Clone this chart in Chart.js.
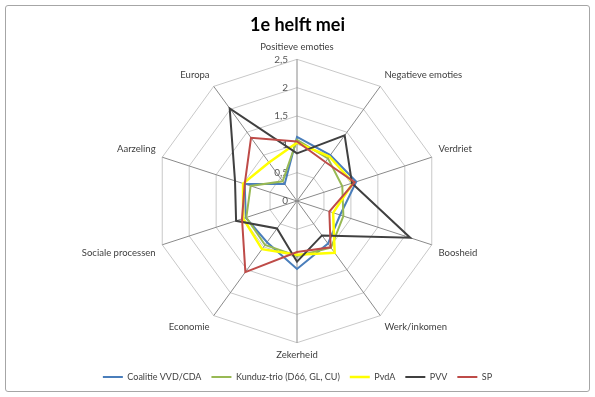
<!DOCTYPE html>
<html>
<head>
<meta charset="utf-8">
<script src="https://cdn.jsdelivr.net/npm/chart.js@4.4.1/dist/chart.umd.min.js"></script>
<style>
  html, body { margin: 0; padding: 0; background: #ffffff; }
  #wrap { position: relative; width: 595px; height: 397px; }
  #frame { position: absolute; left: 5px; top: 5px; width: 583px; height: 385px; border: 1px solid #a6a6a6; border-radius: 3px; pointer-events: none; }
  canvas { position: absolute; left: 0; top: 0; }
</style>
</head>
<body>
<div id="wrap">
  <canvas id="c" width="595" height="397"></canvas>
  <div id="frame"></div>
</div>
<script>
const title = '1e helft mei';
const categories = ['Positieve emoties', 'Negatieve emoties', 'Verdriet', 'Boosheid', 'Werk/inkomen',
  'Zekerheid', 'Economie', 'Sociale processen', 'Aarzeling', 'Europa'];
const seriesNames = ['Coalitie VVD/CDA', 'Kunduz-trio (D66, GL, CU)', 'PvdA', 'PVV', 'SP'];
const coalitie = [1.13, 1.00, 1.10, 0.80, 0.93, 1.20, 0.90, 0.95, 0.97, 0.37];
const kunduz   = [1.08, 0.93, 0.84, 0.86, 1.02, 0.97, 0.96, 0.94, 0.86, 0.43];
const pvda     = [1.03, 0.97, 1.04, 0.67, 1.13, 0.95, 1.05, 1.00, 1.00, 0.84];
const pvv      = [0.84, 1.43, 1.02, 2.10, 0.75, 1.07, 0.60, 1.13, 1.15, 2.02];
const sp       = [1.05, 0.85, 1.07, 0.60, 1.01, 0.90, 1.55, 1.02, 0.97, 1.38];
const tickValues = [0, 0.5, 1, 1.5, 2, 2.5];
const tickLabels = ['0', '0,5', '1', '1,5', '2', '2,5'];

const colors = ['#4a7ebb', '#98b954', '#ffff00', '#404040', '#be4b48'];
const seriesData = [coalitie, kunduz, pvda, pvv, sp];

const leftTicks = {
  id: 'leftTicks',
  beforeDatasetsDraw(chart) {
    const s = chart.scales.r;
    const ctx = chart.ctx;
    ctx.save();
    ctx.font = '10px Lato, "Open Sans", sans-serif';
    ctx.fillStyle = '#595959';
    ctx.textAlign = 'right';
    ctx.textBaseline = 'middle';
    tickValues.forEach((v, i) => {
      const d = s.getDistanceFromCenterForValue(v);
      ctx.fillText(tickLabels[i], s.xCenter - 9, s.yCenter - d);
    });
    ctx.restore();
  }
};

new Chart(document.getElementById('c'), {
  type: 'radar',
  data: {
    labels: categories,
    datasets: seriesData.map((d, i) => ({
      label: seriesNames[i],
      data: d,
      borderColor: colors[i],
      backgroundColor: colors[i],
      borderWidth: i === 2 ? 2.5 : 2,
      fill: false,
      pointRadius: 0,
      pointHoverRadius: 0,
      tension: 0,
      order: 5 - i
    }))
  },
  options: {
    responsive: false,
    animation: false,
    layout: { padding: { top: 0, bottom: 5.5, left: 0, right: 0 } },
    plugins: {
      title: {
        display: true,
        text: title,
        color: '#000000',
        font: { family: 'Lato, "Open Sans", sans-serif', size: 18, weight: 'bold', lineHeight: 1.2 },
        padding: { top: 14, bottom: 5.3 }
      },
      legend: {
        position: 'bottom',
        labels: {
          usePointStyle: true,
          pointStyle: 'line',
          pointStyleWidth: 20,
          color: '#404040',
          font: { family: 'Lato, "Open Sans", sans-serif', size: 9 },
          padding: 10,
          sort: (a, b) => a.datasetIndex - b.datasetIndex
        }
      },
      tooltip: { enabled: false }
    },
    scales: {
      r: {
        min: 0,
        max: 2.5,
        ticks: { stepSize: 0.5, display: false },
        grid: { color: '#c8c8c8', lineWidth: 1, circular: false },
        angleLines: { color: '#8a8a8a', lineWidth: 1 },
        pointLabels: {
          color: '#404040',
          font: { family: 'Lato, "Open Sans", sans-serif', size: 9.5 },
          padding: 7
        }
      }
    }
  },
  plugins: [leftTicks]
});
</script>
</body>
</html>
